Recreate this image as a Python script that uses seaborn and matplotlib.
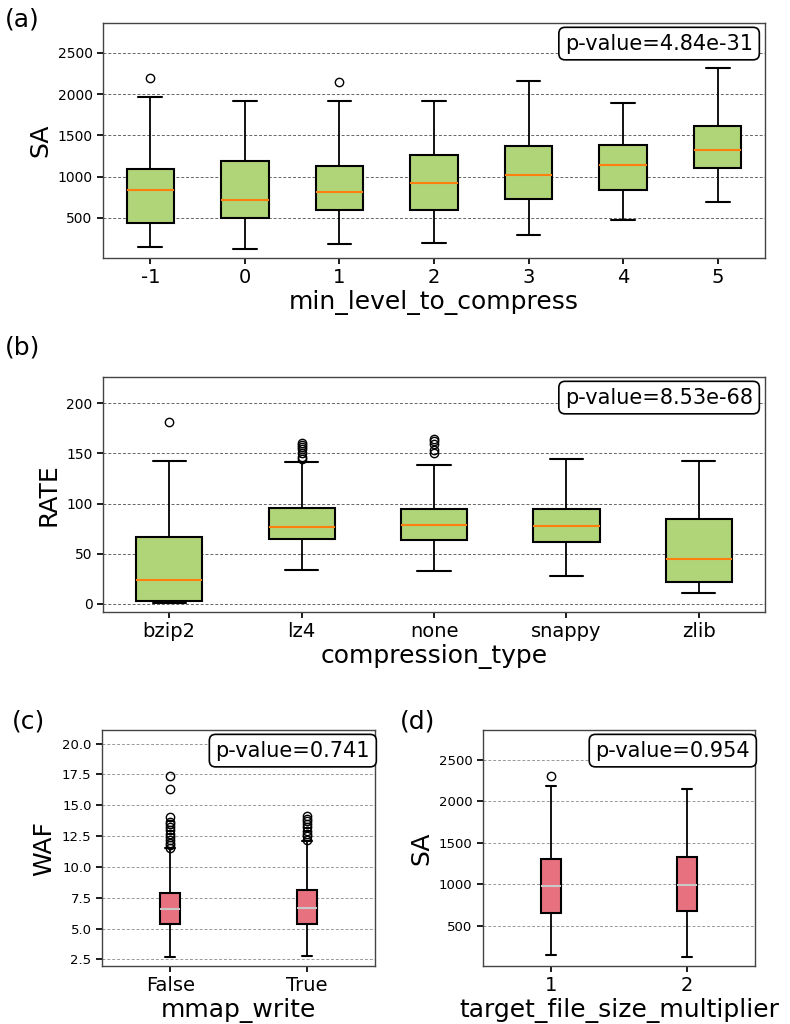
import matplotlib
matplotlib.use("Agg")
import matplotlib.pyplot as plt
import seaborn as sns

sns.set_theme(style="ticks")
plt.rcParams["font.family"] = ["DejaVu Sans"]
plt.rcParams["text.color"] = "black"
plt.rcParams["axes.labelcolor"] = "black"
plt.rcParams["xtick.color"] = "black"
plt.rcParams["ytick.color"] = "black"

# (a) SA by min_level_to_compress
a_labels = ["-1", "0", "1", "2", "3", "4", "5"]
a_low = [146, 126, 178, 190, 295, 476, 697]
a_q1 = [440, 492, 593, 593, 725, 834, 1104]
a_med = [838, 717, 810, 919, 1015, 1136, 1317]
a_q3 = [1092, 1192, 1132, 1265, 1369, 1381, 1619]
a_high = [1961, 1920, 1920, 1920, 2154, 1888, 2315]
a_fliers = [[2190], [], [2146], [], [], [], []]

# (b) RATE by compression_type
b_labels = ["bzip2", "lz4", "none", "snappy", "zlib"]
b_low = [0.8, 33.7, 32.4, 28.0, 10.6]
b_q1 = [3.3, 65.1, 63.8, 61.8, 22.1]
b_med = [24.0, 76.7, 78.3, 77.3, 44.6]
b_q3 = [66.4, 95.9, 94.5, 94.9, 85.0]
b_high = [142.5, 141.0, 138.2, 144.8, 142.5]
b_fliers = [[181],
            [144.5, 146.4, 150.4, 154, 156, 158, 160],
            [150.4, 153, 159.7, 162.3, 164.6],
            [],
            []]

# (c) WAF by mmap_write
c_labels = ["False", "True"]
c_low = [2.69, 2.77]
c_q1 = [5.37, 5.34]
c_med = [6.58, 6.64]
c_q3 = [7.91, 8.10]
c_high = [11.5, 12.1]
c_fliers = [[11.56, 11.75, 11.97, 12.2, 12.43, 12.7, 12.97, 13.24, 13.45, 13.64, 14.05, 16.3, 17.4],
            [12.21, 12.48, 12.7, 12.9, 13.24, 13.5, 13.7, 13.9, 14.1]]

# (d) SA by target_file_size_multiplier
d_labels = ["1", "2"]
d_low = [145, 121]
d_q1 = [657, 682]
d_med = [984, 988]
d_q3 = [1302, 1323]
d_high = [2185, 2149]
d_fliers = [[2310], []]

p_values = ["p-value=4.84e-31", "p-value=8.53e-68", "p-value=0.741", "p-value=0.954"]


def make_stats(labels, low, q1, med, q3, high, fliers):
    return [dict(label=l, whislo=w0, q1=a, med=m, q3=b, whishi=w1, fliers=f)
            for l, w0, a, m, b, w1, f in zip(labels, low, q1, med, q3, high, fliers)]


def draw_panel(ax, stats, width, face, median_color, grid_color, xlabel, ylabel, ylim, yticks, ptext, ytick_size):
    ax.bxp(stats, widths=width, patch_artist=True, showfliers=True,
           boxprops=dict(facecolor=face, edgecolor="black", linewidth=1.5),
           medianprops=dict(color=median_color, linewidth=1.5),
           whiskerprops=dict(color="black", linewidth=1.3),
           capprops=dict(color="black", linewidth=1.5),
           flierprops=dict(marker="o", markerfacecolor="none", markeredgecolor="black",
                           markersize=6, markeredgewidth=1.0))
    ax.set_ylim(*ylim)
    ax.set_yticks(yticks)
    ax.set_axisbelow(True)
    ax.yaxis.grid(True, linestyle=(0, (3, 2)), color=grid_color, linewidth=0.7)
    ax.xaxis.grid(False)
    ax.set_xlabel(xlabel, fontsize=18, labelpad=2)
    ax.set_ylabel(ylabel, fontsize=18)
    ax.tick_params(axis="x", labelsize=14, length=4)
    ax.tick_params(axis="y", labelsize=ytick_size, length=4)
    for s in ax.spines.values():
        s.set_color("#444444")
        s.set_linewidth(1.0)
    ax.text(0.982, 0.955, ptext, transform=ax.transAxes, ha="right", va="top", fontsize=15,
            bbox=dict(boxstyle="round,pad=0.3", facecolor="white", edgecolor="black", linewidth=1.2))


fig = plt.figure(figsize=(7.9, 10.24), dpi=100)
W, H = 790, 1024


def add_axes(left, top, right, bottom):
    return fig.add_axes([left / W, 1 - bottom / H, (right - left) / W, (bottom - top) / H])


ax_a = add_axes(103, 23, 765, 258)
ax_b = add_axes(103, 377, 765, 612)
ax_c = add_axes(102, 730, 375, 966)
ax_d = add_axes(483, 730, 755, 966)

green = "#b0d478"
pink = "#e8717f"

draw_panel(ax_a, make_stats(a_labels, a_low, a_q1, a_med, a_q3, a_high, a_fliers), 0.5, green,
           "#ff7f0e", "#666666", "min_level_to_compress", "SA", (12, 2863),
           [500, 1000, 1500, 2000, 2500], p_values[0], 10)
draw_panel(ax_b, make_stats(b_labels, b_low, b_q1, b_med, b_q3, b_high, b_fliers), 0.5, green,
           "#ff7f0e", "#666666", "compression_type", "RATE", (-8, 226),
           [0, 50, 100, 150, 200], p_values[1], 10)
draw_panel(ax_c, make_stats(c_labels, c_low, c_q1, c_med, c_q3, c_high, c_fliers), 0.15, pink,
           "#c8c8c8", "#999999", "mmap_write", "WAF", (1.96, 21.1),
           [2.5, 5.0, 7.5, 10.0, 12.5, 15.0, 17.5, 20.0], p_values[2], 9.5)
draw_panel(ax_d, make_stats(d_labels, d_low, d_q1, d_med, d_q3, d_high, d_fliers), 0.15, pink,
           "#c8c8c8", "#999999", "target_file_size_multiplier", "SA", (12, 2863),
           [500, 1000, 1500, 2000, 2500], p_values[3], 9.5)

fig.text(5 / W, 1 - 20 / H, "(a)", fontsize=18, va="center", ha="left")
fig.text(5 / W, 1 - 348 / H, "(b)", fontsize=18, va="center", ha="left")
fig.text(12 / W, 1 - 722 / H, "(c)", fontsize=18, va="center", ha="left")
fig.text(400 / W, 1 - 722 / H, "(d)", fontsize=18, va="center", ha="left")

fig.savefig("out.png", dpi=100)
